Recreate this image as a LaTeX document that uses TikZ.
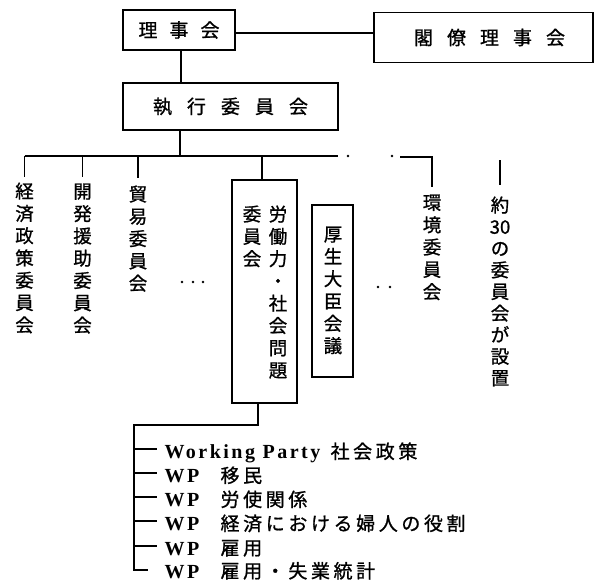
\documentclass[tikz,border=0pt]{standalone}
\usepackage{fontspec}
\setmainfont{Liberation Serif}
\newfontfamily\jp[FakeBold=1]{Noto Sans CJK JP}
\newfontfamily\jpl[LetterSpace=19,FakeBold=1]{Noto Sans CJK JP}
\newfontfamily\lat[LetterSpace=12.5]{Liberation Serif Bold}
\newcommand\jtx[1]{{\jpl\fontsize{19}{19}\selectfont #1}}
\begin{document}
\begin{tikzpicture}[x=1pt,y=-1pt,
  line width=1.1pt,
  box/.style={draw, line width=1.1pt, inner sep=0pt, font=\jp\fontsize{19}{19}\selectfont},
  vtext/.style={align=center, inner sep=0pt, anchor=north, font=\jp\fontsize{18.5}{22.3}\selectfont},
  row/.style={anchor=base west, inner sep=0pt, font=\lat\fontsize{20}{20}\selectfont},
  dot/.style={circle, fill, inner sep=0pt, minimum size=2.8pt}
]
\useasboundingbox (0,0) rectangle (596,582);

% top boxes
\node[box, minimum width=112pt, minimum height=40pt] (riji) at (179,30) {理\hspace{12pt}事\hspace{12pt}会};
\node[box, minimum width=219pt, minimum height=50pt] (kakuryo) at (483.5,37.5) {\hspace{12pt}閣\hspace{14pt}僚\hspace{14pt}理\hspace{14pt}事\hspace{14pt}会};
\node[box, minimum width=215pt, minimum height=47pt] (shikko) at (230.5,106.5) {執\hspace{15pt}行\hspace{15pt}委\hspace{15pt}員\hspace{15pt}会};

\draw ([yshift=-3pt]riji.east) -- ([yshift=-3pt]riji.east -| kakuryo.west);
\draw ([xshift=2pt]riji.south) -- ([xshift=2pt]riji.south |- shikko.north);

% bus
\coordinate (bus) at (180,156);
\coordinate (busL) at (24.5,156);
\coordinate (busR) at (338,156);
\draw (shikko.south -| bus) -- (bus);
\draw (busL) -- (busR);
\node[dot] (g1) at (348,156) {};
\node[dot] (g2) at (392,156) {};
\coordinate (rseg) at (400,157);

% committees
\node[vtext] (keizai) at (24.5,182) {経\\済\\政\\策\\委\\員\\会};
\node[vtext] (kaihatsu) at (82.5,183) {開\\発\\援\\助\\委\\員\\会};
\node[vtext] (boeki) at (138,185) {貿\\易\\委\\員\\会};
\draw[shorten >=5pt] (keizai.north |- bus) -- (keizai.north);
\draw[shorten >=6pt] (kaihatsu.north |- bus) -- (kaihatsu.north);
\draw[shorten >=7pt] (boeki.north |- bus) -- (boeki.north);

\node[dot] (e1) at (182,282) {};
\node[dot] (e2) at (193,282) {};
\node[dot] (e3) at (203,282) {};

\node[box, minimum width=65pt, minimum height=223pt] (rodo) at (264.5,291.5) {};
\node[vtext] (rodoR) at (278,205) {労\\働\\力\\・\\社\\会\\問\\題};
\node[vtext] (rodoL) at (252,205) {委\\員\\会};
\draw ([xshift=-2.5pt]rodo.north |- bus) -- ([xshift=-2.5pt]rodo.north);

\node[box, minimum width=41pt, minimum height=172pt] (kosei) at (332.5,291) {};
\node[vtext] (koseiT) at (333,226) {厚\\生\\大\\臣\\会\\議};

\node[dot] (f1) at (378,287) {};
\node[dot] (f2) at (390,287) {};

\node[vtext] (kankyo) at (432,194) {環\\境\\委\\員\\会};
\draw[shorten >=7pt] (rseg) -- (rseg -| kankyo.north) -- (kankyo.north);

\node[vtext, font=\jp\fontsize{18.5}{21.6}\selectfont] (yaku) at (500,196) {約\\30\\の\\委\\員\\会\\が\\設\\置};
\coordinate (ytop) at (500,160);
\draw[shorten >=11pt] (ytop) -- (yaku.north);

% working parties
\coordinate (j1) at (258,425);
\coordinate (j2) at (134,425);
\coordinate (j3) at (134,570);
\coordinate (c6) at (148,570);
\draw (rodo.south -| j1) -- (j1) -- (j2) -- (j3) -- (c6);
\coordinate (c1) at (157,449);
\coordinate (c2) at (157,473);
\coordinate (c3) at (157,497);
\coordinate (c4) at (157,521);
\coordinate (c5) at (157,546);
\foreach \c in {c1,c2,c3,c4,c5} \draw (\c -| j2) -- (\c);

\node[row] (w1) at (164,458.5) {\makebox[166pt][l]{Working Party}\jtx{社会政策}};
\node[row] (w2) at (164,482.5) {\makebox[56pt][l]{WP}\jtx{移民}};
\node[row] (w3) at (164,506.5) {\makebox[56pt][l]{WP}\jtx{労使関係}};
\node[row] (w4) at (164,530.5) {\makebox[56pt][l]{WP}\jtx{経済における婦人の役割}};
\node[row] (w5) at (164,555) {\makebox[56pt][l]{WP}\jtx{雇用}};
\node[row] (w6) at (164,578) {\makebox[56pt][l]{WP}\jtx{雇用・失業統計}};
\end{tikzpicture}
\end{document}
